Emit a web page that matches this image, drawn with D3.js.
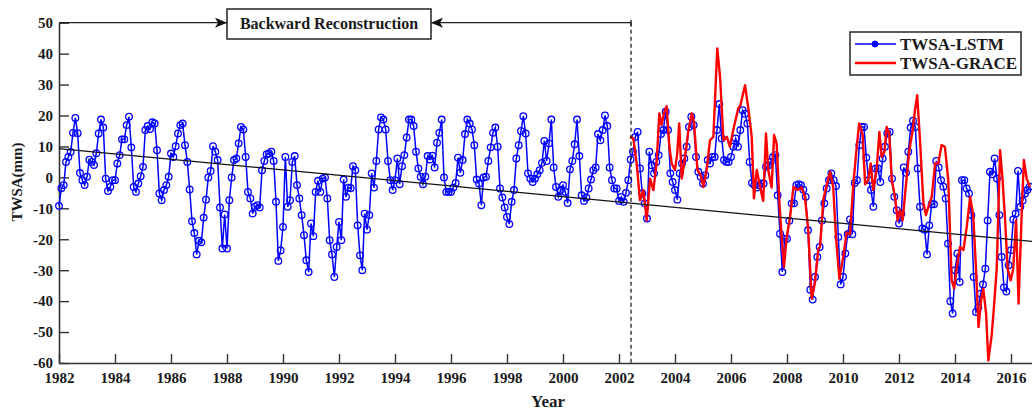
<!DOCTYPE html>
<html>
<head>
<meta charset="utf-8">
<script src="https://cdn.jsdelivr.net/npm/d3@7"></script>
<style>
    body { margin: 0; background: #fff; }
    #chart-area { width: 1032px; height: 410px; }
    text { font-family: "Liberation Serif", "Times New Roman", serif; font-weight: bold; fill: #1a1a1a; }
</style>
</head>
<body>
<div id="chart-area"></div>
<script>

// LSTM reconstruction, monthly from Jan 1982 (one row per year)
const lstmStart = 1982;
const lstmTwsa = [
    -9.2, -3.5, -2.5, 5, 6.6, 8.2, 14.4, 19.2, 14.3, 1.4, -0.9, -2.5,
    0.2, 5.7, 5, 4, 7.8, 14.2, 18.7, 16.1, -0.4, -4.4, -3.1, -0.9,
    -0.9, 4.5, 7.2, 12.3, 12.3, 16.9, 19.6, 9.7, -3.1, -4.7, -2, 0.4,
    3.4, 15.3, 16.6, 15.6, 17.8, 17.4, 8.8, -5.2, -7.4, -4.1, -2.5, 0.2,
    7.7, 6.6, 10.1, 14.2, 16.9, 17.4, 10.4, 5, -3.9, -14.2, -18, -24.9,
    -20.5, -21, -13, -7.2, 0, 2.1, 10.1, 8.3, 5.6, -9.7, -23, -12,
    -23, -7.4, 0, 5.6, 6.1, 11, 16.3, 15.5, 6.6, -4.7, -6.8, -11.7,
    -9.5, -9, -9.7, 2.3, 5.3, 7.5, 7.7, 8.3, 5.3, -7.9, -27, -23.6,
    -16, 6.6, -9.5, -7.4, 5, 6.9, -2.5, -6.8, -12.2, -18.7, -26.8, -30.6,
    -14.9, -19, -4.7, -1.1, -4.7, -0.4, 0, -6.8, -20.3, -24.9, -32.2, -22.5,
    -14.4, -20.3, -0.7, -6.3, -3.3, -3.5, 3.6, 2.3, -15.5, -25.2, -30, -11.7,
    -16.9, -12.2, 1.3, -3.3, 5.3, 15.5, 19.4, 18.7, 15.5, 5.3, -0.9, -4.1,
    -0.9, 6.1, -2.2, 3.6, 7.2, 12.9, 18.7, 18.7, 16.6, 8.3, 2.9, 0.2,
    -2.2, 0.2, 6.9, 5.8, 7, 3.2, 11.2, 14.4, 18.7, 0, -4.7, -4.7,
    -4.7, -3.3, -1.8, 6.4, 1.5, 5.6, 14, 18.7, 17.4, 15.5, 10.4, -0.7,
    -2, -9, 0, 0.2, 5.3, 9.7, 14.4, 16.1, 9.9, -3.6, -6.5, -9.7,
    -12.8, -15.1, -7.9, -4.1, 6.1, 10.4, 15, 19.8, 14.2, 1.3, -0.4, -1.5,
    -0.4, 1, 2.3, 4.7, 11.8, 5.3, 11, 18.7, 3.2, -3.1, -6.3, -4.1,
    -2.5, -4.7, -8.3, 2.6, 5.3, 10.7, 18.7, 6.9, -5.8, -7.6, -6.5, -3.6,
    -0.7, 2.3, 3.2, 14, 12, 15.3, 20, 16.6, 3.2, -0.9, -3.6, -3.6,
    -7.6, -6.3, -7.9, -5, -0.9, 5.8, 8.3, 13.1, 14.7, 2.9, -5.2, -8.4,
    -13.3, 8.3, 3.9, 1.3, 5, 7.2, 14, 15.3, 21.2, 15.3, 1.3, -1.5,
    -4.1, -7.2, 1.3, 4.5, 6.1, 9.9, 16.3, 19.6, 16.9, 6.6, 1.8, 0.2,
    -2, 0.7, 5.6, 4.5, 6.6, 6.6, 15.3, 23.7, 12.6, 5.6, 5, 5,
    6.6, 9.9, 12.6, 9.9, 15.3, 21.7, 20.6, 17.4, 5, -1.8, -2.5, -3.3,
    -2.5, -2, -2, 3.4, 3.9, 5, 6.6, 7.2, -5.8, -18.2, -30.6, -19.8,
    -19.8, -14, -8.4, -8.4, -2.5, -2.2, -2.5, -4, -6.3, -17.1, -36.3, -39.5,
    -32.2, -25.7, -22.5, -13.9, -8.4, -3.6, -0.9, 1.3, -0.9, -2.8, -19.3, -34.6,
    -32.2, -24.6, -18.4, -13.6, -18.4, -1.8, -0.9, 10.4, 16.3, 16.3, 6.4, -0.9,
    -4.1, -9.5, 2.9, 2.9, -1.5, 6.1, 9.9, 14.2, 14.7, -0.4, -6.3, -10.6,
    -14.9, -11.7, 3.2, 1.5, 8.3, 16.1, 18.3, 16.3, 2.9, -9.5, -16.5, -16.9,
    -24.9, -15.5, -8.7, -8.7, 5.3, 3.2, -0.9, -3, -6.8, -21.4, -40, -44,
    -30, -24.6, -33.8, -0.9, -0.9, -3.6, -5.2, -12.2, -32.2, -43.5, -42, -37.6,
    -34.6, -29.5, -13.9, 1.8, 1, 6.1, -0.4, -12.2, -25.7, -35.6, -36.9, -28.4,
    -23.5, -13.6, -11.7, 2.1, -9.5, -7.5, -5.2, -4.1, -3
];

// GRACE observations (decimal year, TWSA mm)
const graceYear = [
    2002.39, 2002.51, 2002.63, 2002.75, 2002.87, 2002.99, 2003.11, 2003.23, 2003.35, 2003.44,
    2003.52, 2003.61, 2003.70, 2003.80, 2003.88, 2004.00, 2004.08, 2004.15, 2004.24, 2004.36,
    2004.47, 2004.60, 2004.68, 2004.80, 2004.92, 2005.01, 2005.13, 2005.25, 2005.37, 2005.51,
    2005.61, 2005.73, 2005.85, 2005.96, 2006.08, 2006.26, 2006.34, 2006.50, 2006.62, 2006.74,
    2006.82, 2006.92, 2007.04, 2007.15, 2007.25, 2007.33, 2007.45, 2007.54, 2007.63, 2007.73,
    2007.81, 2007.89, 2007.99, 2008.11, 2008.23, 2008.37, 2008.52, 2008.64, 2008.76, 2008.88,
    2009.00, 2009.12, 2009.18, 2009.30, 2009.42, 2009.54, 2009.65, 2009.75, 2009.87, 2010.01,
    2010.13, 2010.25, 2010.37, 2010.49, 2010.58, 2010.70, 2010.79, 2010.90, 2010.99, 2011.08,
    2011.20, 2011.30, 2011.38, 2011.48, 2011.56, 2011.65, 2011.74, 2011.86, 2011.95, 2012.04,
    2012.13, 2012.25, 2012.37, 2012.49, 2012.57, 2012.65, 2012.75, 2012.87, 2012.96, 2013.05,
    2013.17, 2013.29, 2013.40, 2013.52, 2013.64, 2013.76, 2013.88, 2013.97, 2014.08, 2014.18,
    2014.30, 2014.42, 2014.54, 2014.65, 2014.75, 2014.84, 2014.93, 2015.01, 2015.11, 2015.19,
    2015.31, 2015.39, 2015.49, 2015.61, 2015.70, 2015.79, 2015.88, 2015.99, 2016.08, 2016.18,
    2016.27, 2016.38, 2016.46, 2016.56, 2016.68
];
const graceTwsa = [
    13.1, 12.6, 4.5, -7.4, -4.1, -13.9, -0.4, -4.1, 5.6, 20.7,
    16.9, 21, 23, 9.9, 4.5, 2.4, 7.7, 17.4, -0.4, 6.6,
    14.7, 20.7, 17.8, 2.4, 0.7, -3.1, 2.4, 12, 13.1, 41.7,
    32.5, 12, 13.1, 9.9, 15.3, 22.3, 23.4, 29.8, 22.3, 13.1,
    -6.8, 2.4, -3.1, -7.6, 14.2, 2.4, -3.3, 13.7, 11, -8.4,
    -19.3, -29, -19.3, -12.8, -3.1, -4.1, -3.3, -6.3, -17.1, -39.2,
    -34, -23, -22.5, -7, -2.5, 1.8, -3.1, -19.3, -32.7, -25.7,
    -17.8, -18.4, -2.2, 9.9, 17.4, 13.9, -2.2, -0.9, 4.5, -4.1,
    2.4, 14.7, 6.6, 8.3, 16.3, 14.2, -0.9, -6.3, -13.9, -10.6,
    -13.9, -2.2, 8.8, 15.3, 21.7, 26.6, 12, -8, -12.2, -9.5,
    -6.3, 4.5, 4.5, 10.4, 9.9, -0.9, -33.3, -35.9, -28, -22.5,
    -23.5, -16, -6.3, -12.2, -29.5, -48.4, -40, -36, -44, -59.2,
    -51, -42, -29.5, 8.8, -0.9, -13.9, -29.5, -33.3, -29.5, -13.9,
    -40.8, -12.2, 5.6, -0.4, -3.1
];

// linear trend of the reconstruction (end points)
const trendYear = [1982, 2016.75];
const trendTwsa = [9.3, -20.7];

const yTicks = [-60, -50, -40, -30, -20, -10, 0, 10, 20, 30, 40, 50];
const xTicks = d3.range(1982, 2017, 2);
const graceStartYear = 2002.43;
const seriesNames = ["TWSA-LSTM", "TWSA-GRACE"];


class TwsaChart {

    constructor(parentElement) {
        this.parentElement = parentElement;
        this.initVis();
    }

    initVis() {
        let vis = this;

        vis.width = 1032;
        vis.height = 410;
        vis.plot = {left: 59, right: 1032, top: 22.7, bottom: 363};

        vis.svg = d3.select("#" + vis.parentElement).append("svg")
            .attr("width", vis.width)
            .attr("height", vis.height);

        vis.x = d3.scaleLinear()
            .domain([1982, 2016.75])
            .range([vis.plot.left, vis.plot.right]);

        vis.y = d3.scaleLinear()
            .domain([-60, 50])
            .range([vis.plot.bottom, vis.plot.top]);

        vis.lstmData = lstmTwsa.map((v, i) => ({year: lstmStart + i / 12, value: v}));
        vis.graceData = graceYear.map((t, i) => ({year: t, value: graceTwsa[i]}));
        vis.trendData = trendYear.map((t, i) => ({year: t, value: trendTwsa[i]}));

        vis.drawAxes();
        vis.drawSeries();
        vis.drawAnnotation();
        vis.drawLegend();
    }

    drawAxes() {
        let vis = this;

        let yAxis = d3.axisLeft(vis.y)
            .tickValues(yTicks)
            .tickSizeInner(-10)
            .tickSizeOuter(0)
            .tickPadding(6)
            .tickFormat(d => String(d));

        let xAxis = d3.axisBottom(vis.x)
            .tickValues(xTicks)
            .tickSizeInner(-9)
            .tickSizeOuter(0)
            .tickPadding(9)
            .tickFormat(d3.format("d"));

        let gy = vis.svg.append("g")
            .attr("class", "y-axis")
            .attr("transform", `translate(${vis.plot.left},0)`)
            .call(yAxis);

        let gx = vis.svg.append("g")
            .attr("class", "x-axis")
            .attr("transform", `translate(0,${vis.plot.bottom})`)
            .call(xAxis);

        [gx, gy].forEach(g => {
            g.select(".domain").attr("stroke", "#333").attr("stroke-width", 1.6);
            g.selectAll(".tick line").attr("stroke", "#333").attr("stroke-width", 1.4);
            g.selectAll(".tick text")
                .attr("fill", "#1a1a1a")
                .style("font-size", "15px")
                .style("font-family", "'Liberation Serif', serif")
                .style("font-weight", "bold");
        });

        vis.svg.append("text")
            .attr("transform", "translate(22,182) rotate(-90)")
            .attr("text-anchor", "middle")
            .style("font-size", "15px")
            .text("TWSA(mm)");

        vis.svg.append("text")
            .attr("x", 548)
            .attr("y", 407)
            .attr("text-anchor", "middle")
            .style("font-size", "17px")
            .text("Year");
    }

    drawSeries() {
        let vis = this;

        let line = d3.line()
            .x(d => vis.x(d.year))
            .y(d => vis.y(d.value));

        // LSTM line + open circle markers
        vis.svg.append("path")
            .datum(vis.lstmData)
            .attr("fill", "none")
            .attr("stroke", "#0000ff")
            .attr("stroke-width", 1.5)
            .attr("d", line);

        vis.svg.append("g")
            .selectAll("circle")
            .data(vis.lstmData)
            .enter().append("circle")
            .attr("cx", d => vis.x(d.year))
            .attr("cy", d => vis.y(d.value))
            .attr("r", 3.3)
            .attr("fill", "none")
            .attr("stroke", "#0000ff")
            .attr("stroke-width", 1.3);

        // GRACE
        vis.svg.append("path")
            .datum(vis.graceData)
            .attr("fill", "none")
            .attr("stroke", "#ff0000")
            .attr("stroke-width", 2.4)
            .attr("stroke-linejoin", "round")
            .attr("d", line);

        // trend
        vis.svg.append("path")
            .datum(vis.trendData)
            .attr("fill", "none")
            .attr("stroke", "#111")
            .attr("stroke-width", 1.2)
            .attr("d", line);
    }

    drawAnnotation() {
        let vis = this;

        let defs = vis.svg.append("defs");
        defs.append("marker")
            .attr("id", "arrow")
            .attr("viewBox", "0 0 12 10")
            .attr("refX", 12)
            .attr("refY", 5)
            .attr("markerWidth", 12)
            .attr("markerHeight", 10)
            .attr("markerUnits", "userSpaceOnUse")
            .attr("orient", "auto")
            .append("path")
            .attr("d", "M0,0 L12,5 L0,10 L3,5 Z")
            .attr("fill", "#111");

        let yTop = vis.y(50);
        let xSplit = vis.x(graceStartYear);
        let box = {x: 227, y: 9, w: 204, h: 30};

        // dashed separator
        vis.svg.append("line")
            .attr("x1", xSplit).attr("x2", xSplit)
            .attr("y1", yTop).attr("y2", vis.plot.bottom)
            .attr("stroke", "#222")
            .attr("stroke-width", 1.3)
            .attr("stroke-dasharray", "4,3");

        vis.svg.append("line")
            .attr("x1", xSplit).attr("x2", xSplit)
            .attr("y1", yTop - 3).attr("y2", yTop + 3)
            .attr("stroke", "#222").attr("stroke-width", 1.3);

        // arrows into the box
        vis.svg.append("line")
            .attr("x1", vis.plot.left).attr("x2", box.x)
            .attr("y1", yTop).attr("y2", yTop)
            .attr("stroke", "#222").attr("stroke-width", 1.3)
            .attr("marker-end", "url(#arrow)");

        vis.svg.append("line")
            .attr("x1", xSplit).attr("x2", box.x + box.w)
            .attr("y1", yTop).attr("y2", yTop)
            .attr("stroke", "#222").attr("stroke-width", 1.3)
            .attr("marker-end", "url(#arrow)");

        vis.svg.append("rect")
            .attr("x", box.x).attr("y", box.y)
            .attr("width", box.w).attr("height", box.h)
            .attr("fill", "#fff")
            .attr("stroke", "#222")
            .attr("stroke-width", 1.5);

        vis.svg.append("text")
            .attr("x", box.x + box.w / 2)
            .attr("y", box.y + 20)
            .attr("text-anchor", "middle")
            .style("font-size", "16px")
            .text("Backward Reconstruction");
    }

    drawLegend() {
        let vis = this;

        let lg = vis.svg.append("g").attr("transform", "translate(850,32)");

        lg.append("rect")
            .attr("width", 171).attr("height", 43)
            .attr("fill", "#fff")
            .attr("stroke", "#333")
            .attr("stroke-width", 1.6);

        let colors = ["#0000ff", "#ff0000"];
        let rows = lg.selectAll(".legend-row")
            .data(seriesNames)
            .enter().append("g")
            .attr("class", "legend-row")
            .attr("transform", (d, i) => `translate(0,${12 + i * 19})`);

        rows.append("line")
            .attr("x1", 5).attr("x2", 46)
            .attr("stroke", (d, i) => colors[i])
            .attr("stroke-width", (d, i) => i == 0 ? 1.5 : 2.4);

        rows.filter((d, i) => i == 0).append("circle")
            .attr("cx", 25).attr("r", 3)
            .attr("fill", "#0000ff")
            .attr("stroke", "#0000ff");

        rows.append("text")
            .attr("x", 50)
            .attr("y", 6)
            .style("font-size", "17px")
            .text(d => d);
    }
}

new TwsaChart("chart-area");

</script>
</body>
</html>
